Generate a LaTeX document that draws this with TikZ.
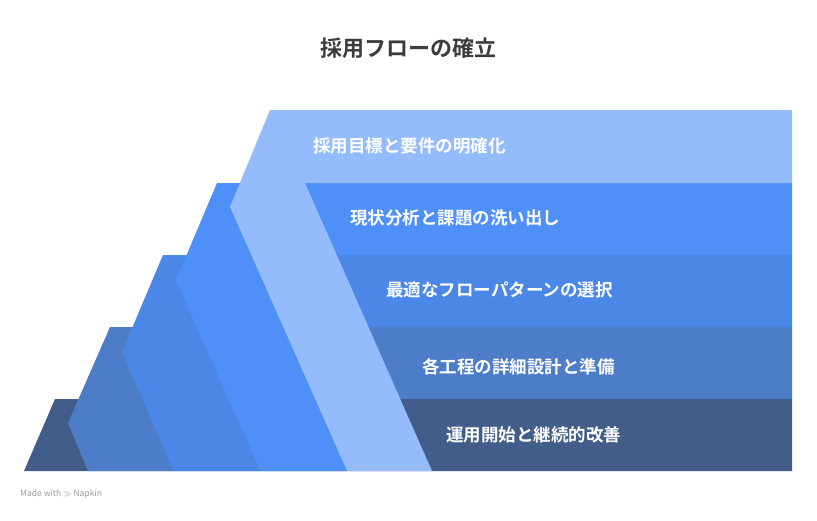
\documentclass[tikz,border=0pt]{standalone}
\usepackage{fontspec}
\newfontfamily\jp{Noto Sans CJK JP}
\newfontfamily\jpb{Noto Sans CJK JP Bold}
\definecolor{cA}{HTML}{94BBFC}
\definecolor{cB}{HTML}{4F8FF8}
\definecolor{cC}{HTML}{4B87E6}
\definecolor{cD}{HTML}{4D7DC8}
\definecolor{cE}{HTML}{425D89}
\definecolor{ttl}{HTML}{3C3C3C}
\tikzset{lbl/.style={anchor=west,text=white,font=\jpb\fontsize{17.5}{20}\selectfont,inner sep=0pt}}
\begin{document}
\begin{tikzpicture}[x=1pt,y=-1pt]
\useasboundingbox[fill=white] (0,0) rectangle (817,520);
\fill[cE] (55,399)--(792,399)--(792,471)--(24,471)--cycle;
\fill[cD] (110,327)--(792,327)--(792,399)--(142,399)--(173,471)--(88,471)--(68,423)--cycle;
\fill[cC] (163,255)--(792,255)--(792,327)--(197,327)--(260,471)--(173,471)--(122,352)--cycle;
\fill[cB] (217,183)--(792,183)--(792,255)--(251,255)--(347,471)--(260,471)--(176,280)--cycle;
\fill[cA] (270,110)--(792,110)--(792,183)--(305,183)--(432,471)--(347,471)--(230,207)--cycle;
\node[lbl] (t1) at (313,146) {採用目標と要件の明確化};
\node[lbl] (t2) at (350,218) {現状分析と課題の洗い出し};
\node[lbl] (t3) at (386,290) {最適なフローパターンの選択};
\node[lbl] (t4) at (422,367) {各工程の詳細設計と準備};
\node[lbl] (t5) at (446,435) {運用開始と継続的改善};
\node[text=ttl,font=\jpb\fontsize{22}{26}\selectfont] (title) at (408,48) {採用フローの確立};
\node[anchor=west,text=gray!80,font=\jp\fontsize{8.5}{10}\selectfont,inner sep=0pt] (mw) at (20,494) {Made with \(\gg\) Napkin};
\end{tikzpicture}
\end{document}
